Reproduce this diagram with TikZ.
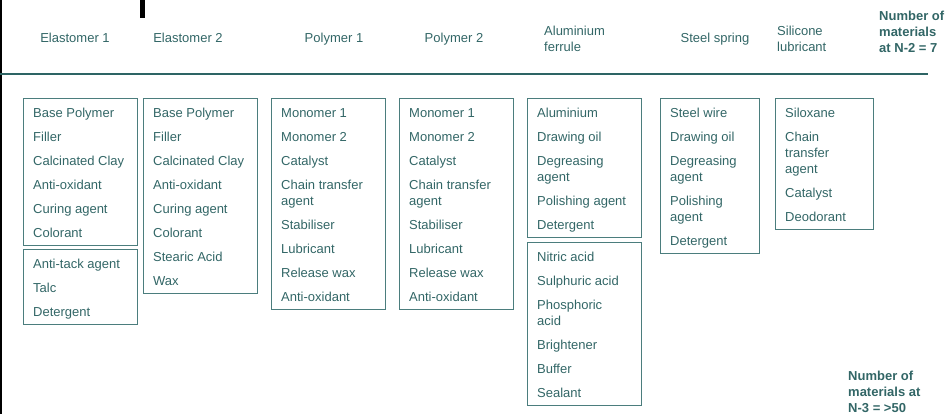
\documentclass[tikz,border=0pt]{standalone}
\usepackage{fontspec}
\setmainfont{Liberation Sans}
\usetikzlibrary{calc}
\definecolor{txt}{RGB}{50,102,102}
\definecolor{boxc}{RGB}{75,125,125}
\definecolor{rule}{RGB}{45,100,100}
\tikzset{
  box/.style={draw=boxc, line width=1.1pt, rectangle, anchor=north west, inner sep=0pt},
  items/.style={anchor=base west, align=left, inner sep=0pt, text=txt, font=\fontsize{13}{16}\selectfont},
  hdr/.style={inner sep=0pt, text=txt, font=\fontsize{13}{16}\selectfont},
  hdrb/.style={inner sep=0pt, text=txt, align=left, anchor=base west, font=\fontsize{13}{16}\selectfont\bfseries}
}
\begin{document}
\begin{tikzpicture}[x=1pt,y=-1pt]
\useasboundingbox (0,0) rectangle (948,414);
% frame marks
\draw[black, line width=2.2pt] (1.1,0) -- (1.1,414);
\draw[black, line width=4.5pt] (142.5,0) -- (142.5,18);
\draw[rule, line width=1.2pt] (0,74) -- (928,74);
% headers (multi-line nodes: base = baseline of last line)
\node[hdr, anchor=base] (h1) at (75,43) {Elastomer 1};
\node[hdr, anchor=base] (h2) at (188,43) {Elastomer 2};
\node[hdr, anchor=base] (h3) at (334,43) {Polymer 1};
\node[hdr, anchor=base] (h4) at (454,43) {Polymer 2};
\node[hdr, anchor=base west, align=left] (h5) at (544,52) {Aluminium\\ferrule};
\node[hdr, anchor=base] (h6) at (715,43) {Steel spring};
\node[hdr, anchor=base west, align=left] (h7) at (777,52) {Silicone\\lubricant};
\node[hdrb] (n2) at (879,52.5) {Number of\\materials\\at N-2 = 7};
\node[hdrb] (n3) at (848,412.5) {Number of\\materials at\\N-3 = >50};
% Elastomer 1
\node[box, minimum width=114pt, minimum height=147pt] (e1a) at (23,98) {};
\node[items] (e1at) at ($(e1a.south west)+(10,-8.5)$) {Base Polymer\\[8pt]Filler\\[8pt]Calcinated Clay\\[8pt]Anti-oxidant\\[8pt]Curing agent\\[8pt]Colorant};
\node[box, minimum width=114pt, minimum height=75pt] (e1b) at (23,249) {};
\node[items] (e1bt) at ($(e1b.south west)+(10,-8.5)$) {Anti-tack agent\\[8pt]Talc\\[8pt]Detergent};
% Elastomer 2
\node[box, minimum width=114pt, minimum height=195pt] (e2) at (143,98) {};
\node[items] (e2t) at ($(e2.south west)+(10,-8.5)$) {Base Polymer\\[8pt]Filler\\[8pt]Calcinated Clay\\[8pt]Anti-oxidant\\[8pt]Curing agent\\[8pt]Colorant\\[8pt]Stearic Acid\\[8pt]Wax};
% Polymer 1
\node[box, minimum width=114pt, minimum height=211pt] (p1) at (271,98) {};
\node[items] (p1t) at ($(p1.south west)+(10,-8.5)$) {Monomer 1\\[8pt]Monomer 2\\[8pt]Catalyst\\[8pt]Chain transfer\\agent\\[8pt]Stabiliser\\[8pt]Lubricant\\[8pt]Release wax\\[8pt]Anti-oxidant};
% Polymer 2
\node[box, minimum width=114pt, minimum height=211pt] (p2) at (399,98) {};
\node[items] (p2t) at ($(p2.south west)+(10,-8.5)$) {Monomer 1\\[8pt]Monomer 2\\[8pt]Catalyst\\[8pt]Chain transfer\\agent\\[8pt]Stabiliser\\[8pt]Lubricant\\[8pt]Release wax\\[8pt]Anti-oxidant};
% Aluminium ferrule
\node[box, minimum width=114pt, minimum height=139pt] (ala) at (527,98) {};
\node[items] (alat) at ($(ala.south west)+(10,-8.5)$) {Aluminium\\[8pt]Drawing oil\\[8pt]Degreasing\\agent\\[8pt]Polishing agent\\[8pt]Detergent};
\node[box, minimum width=114pt, minimum height=163pt] (alb) at (527,242) {};
\node[items] (albt) at ($(alb.south west)+(10,-8.5)$) {Nitric acid\\[8pt]Sulphuric acid\\[8pt]Phosphoric\\acid\\[8pt]Brightener\\[8pt]Buffer\\[8pt]Sealant};
% Steel spring
\node[box, minimum width=99pt, minimum height=155pt] (st) at (660,98) {};
\node[items] (stt) at ($(st.south west)+(10,-8.5)$) {Steel wire\\[8pt]Drawing oil\\[8pt]Degreasing\\agent\\[8pt]Polishing\\agent\\[8pt]Detergent};
% Silicone lubricant
\node[box, minimum width=98pt, minimum height=131pt] (si) at (775,98) {};
\node[items] (sit) at ($(si.south west)+(10,-8.5)$) {Siloxane\\[8pt]Chain\\transfer\\agent\\[8pt]Catalyst\\[8pt]Deodorant};
\end{tikzpicture}
\end{document}
